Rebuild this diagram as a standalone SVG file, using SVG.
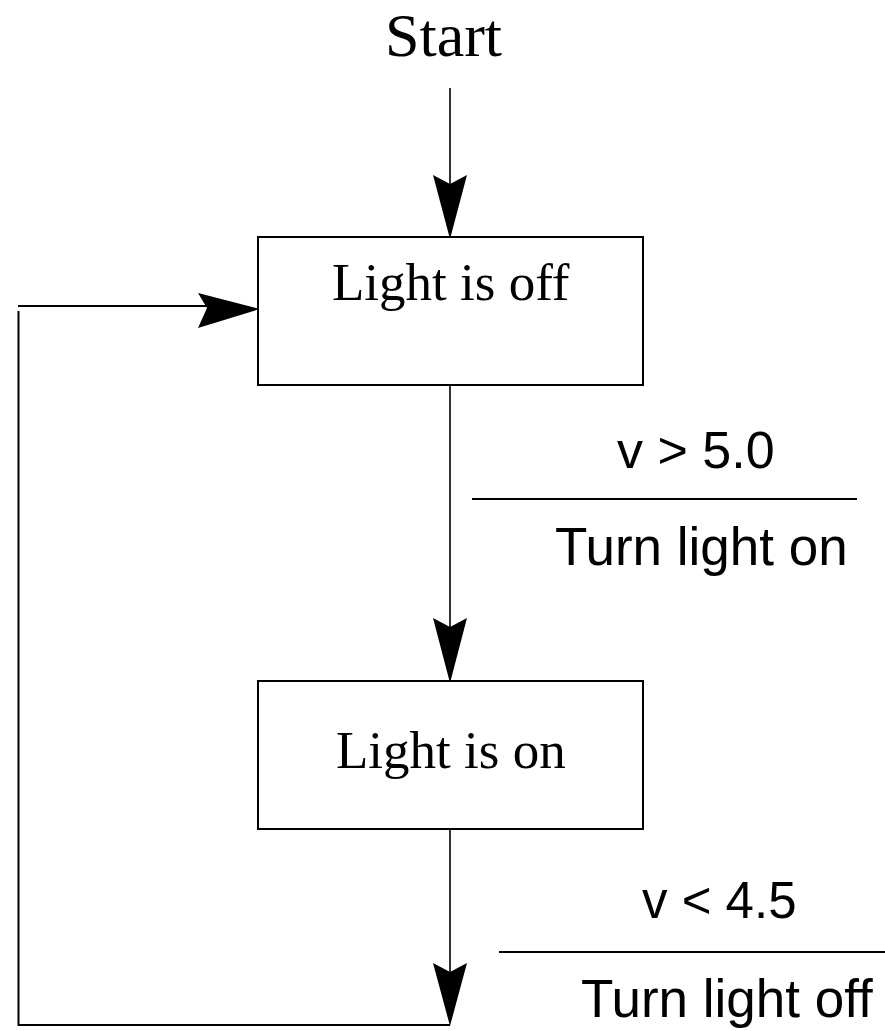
<svg xmlns="http://www.w3.org/2000/svg" width="885" height="1031" viewBox="0 0 885 1031">
<style>
.box{fill:#fff;stroke:#000;stroke-width:2}
.ln{fill:none;stroke:#000;stroke-width:1.6}
.ln2{fill:none;stroke:#000;stroke-width:2}
.head{fill:#000;stroke:none}
.serif{font-family:"Liberation Serif","Times New Roman",serif;fill:#000}
.sans{font-family:"Liberation Sans",Arial,sans-serif;fill:#000}
</style>
<rect width="885" height="1031" fill="#fff"/>
<g id="start">
<text class="serif" x="385" y="56" font-size="62">Start</text>
</g>
<g id="connectors">
<line class="ln" x1="450" y1="88" x2="450" y2="190"/>
<path class="head" d="M450,239 L433,175 L450,184 L467,175 Z"/>
<line class="ln" x1="450" y1="386" x2="450" y2="630"/>
<path class="head" d="M450,683 L433,618 L450,627 L467,618 Z"/>
<line class="ln" x1="450" y1="829" x2="450" y2="975"/>
<path class="head" d="M450,1026 L433,963 L450,972 L467,963 Z"/>
<path class="ln2" d="M450,1025 L18.5,1025 L18.5,311"/>
<line class="ln2" x1="18" y1="306" x2="215" y2="306"/>
<path class="head" d="M260,309 L198,293 L207,308 L198,328 Z"/>
<line class="ln2" x1="472" y1="499" x2="857" y2="499"/>
<line class="ln2" x1="499" y1="952" x2="885" y2="952"/>
</g>
<g id="off">
<rect class="box" x="258" y="237" width="385" height="148"/>
<text class="serif" x="332" y="300" font-size="53">Light is off</text>
</g>
<g id="on">
<rect class="box" x="258" y="681" width="385" height="148"/>
<text class="serif" x="336" y="768" font-size="53">Light is on</text>
</g>
<g id="label1">
<text class="sans" x="617" y="468" font-size="52">v &gt; 5.0</text>
<text class="sans" x="555" y="565" font-size="53">Turn light on</text>
</g>
<g id="label2">
<text class="sans" x="642" y="918" font-size="51">v &lt; 4.5</text>
<text class="sans" x="581" y="1017" font-size="53">Turn light off</text>
</g>
</svg>
